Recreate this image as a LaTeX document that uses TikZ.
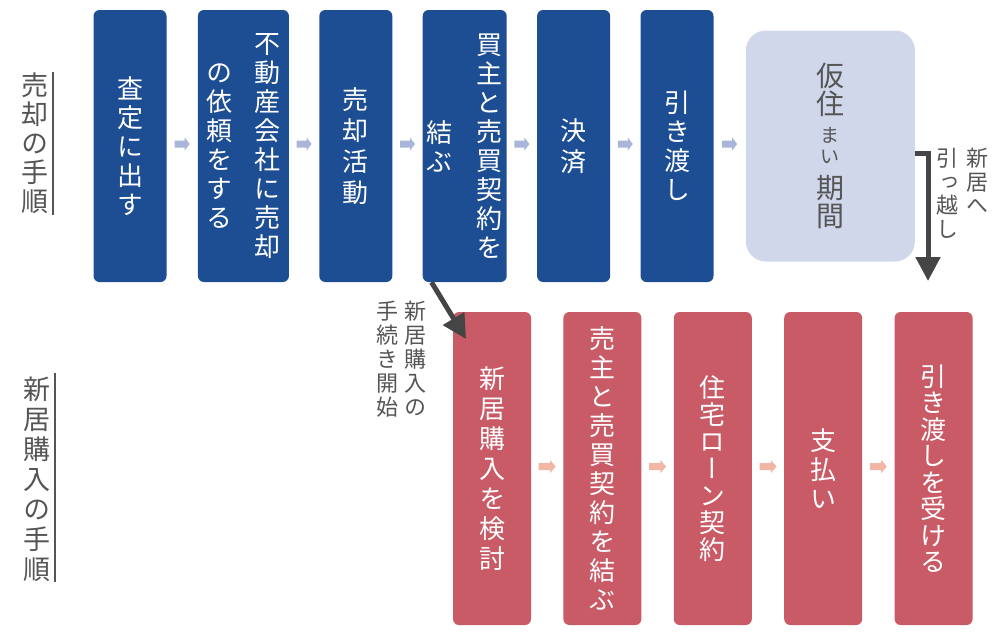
\documentclass[tikz,border=0pt]{standalone}
\usepackage{fontspec}
\newfontfamily\jp[RawFeature=+vert]{Noto Sans CJK JP}
\newfontfamily\jpsmall[Scale=0.68]{Noto Sans CJK JP}
\usepackage{tikz}
\usetikzlibrary{positioning,arrows.meta}
\definecolor{sellblue}{HTML}{1D4D92}
\definecolor{karifill}{HTML}{D0D7EA}
\definecolor{buyred}{HTML}{C95B67}
\definecolor{arrowblue}{HTML}{A9B6D9}
\definecolor{arrowpink}{HTML}{F1B6A4}
\definecolor{textgray}{HTML}{555555}
\definecolor{arrowgray}{HTML}{454545}
% vertical text: one character per row
\newcommand\tatesplit[1]{\ifx\relax#1\else\hbox to 1em{\hss#1\hss}\expandafter\tatesplit\fi}
\newcommand\tate[2][29pt]{$\vcenter{\baselineskip=#1\lineskiplimit=-100pt\lineskip=0pt\tatesplit#2\relax}$}
\newcommand\tatetop[2][24pt]{\vtop{\baselineskip=#1\lineskiplimit=-100pt\lineskip=0pt\tatesplit#2\relax}}
\newcommand\kanama{{\jpsmall ま}}
\newcommand\kanai{\raisebox{7pt}{\jpsmall い}}

\begin{document}
\begin{tikzpicture}[x=1pt,y=-1pt,
    sellbox/.style={fill=sellblue, rounded corners=6pt, minimum width=73pt, minimum height=272pt,
      inner sep=0pt, text=white, font=\jp\fontsize{26}{29}\selectfont},
    buybox/.style={sellbox, fill=buyred, minimum width=78pt, minimum height=313pt},
    karibox/.style={fill=karifill, rounded corners=20pt, minimum width=169pt, minimum height=231pt,
      inner sep=0pt, text=textgray, font=\jp\fontsize{28}{30}\selectfont},
    headtext/.style={inner sep=0pt, text=textgray, font=\jp\fontsize{27}{29}\selectfont},
    headrule/.style={draw=textgray, line width=1.5pt},
    notetext/.style={inner sep=0pt, text=textgray, font=\jp\fontsize{22}{24}\selectfont},
    hint/.pic={\fill[#1] (-7.5,-3.5) -- (2.5,-3.5) -- (2.5,-6.5) -- (7.5,0) -- (2.5,6.5)
      -- (2.5,3.5) -- (-7.5,3.5) -- cycle;},
    bigarrow/.style={draw=arrowgray, line width=5pt, -{Triangle[width=24pt,length=24pt]}}]
  \useasboundingbox (0,0) rectangle (1000,641);
  % Headings
  \node[headtext] (sellhead) at (35,143) {\tate{売却の手順}};
  \node[headtext] (buyhead) at (37,479.5) {\tate[30pt]{新居購入の手順}};
  \draw[headrule] (53,72) -- (53,215);
  \draw[headrule] (55,373) -- (55,582);
  % Selling steps
  \node[sellbox] (sell1) at (130,146) {\tate{査定に出す}};
  \node[sellbox, minimum width=91pt, right=31pt of sell1] (sell2)
    {\tate{の依頼をする}\hspace{22pt}\tate{不動産会社に売却}};
  \node[sellbox, right=30pt of sell2] (sell3) {\tate[31pt]{売却活動}};
  \node[sellbox, minimum width=84pt, right=30pt of sell3] (sell4)
    {\tate{結ぶ}\hspace{24pt}\tate{買主と売買契約を}};
  \node[sellbox, right=30pt of sell4] (sell5) {\tate[31pt]{決済}};
  \node[sellbox, right=30pt of sell5] (sell6) {\tate{引き渡し}};
  \node[karibox, right=32pt of sell6] (kari) {\tate[28pt]{仮住\kanama\kanai 期間}};
  \foreach \a/\b in {sell1/sell2,sell2/sell3,sell3/sell4,sell4/sell5,sell5/sell6,sell6/kari}
    \path (\a) -- (\b) pic[midway, yshift=2pt] {hint=arrowblue};
  % Buying steps
  \node[buybox] (buy1) at (492,468.5) {\tate[30pt]{新居購入を検討}};
  \node[buybox, right=32pt of buy1] (buy2) {\tate[29pt]{売主と売買契約を結ぶ}};
  \node[buybox, right=32pt of buy2] (buy3) {\tate[27pt]{住宅ローン契約}};
  \node[buybox, right=32pt of buy3] (buy4) {\tate{支払い}};
  \node[buybox, right=32pt of buy4] (buy5) {\tate[26.5pt]{引き渡しを受ける}};
  \foreach \a/\b in {buy1/buy2,buy2/buy3,buy3/buy4,buy4/buy5}
    \path (\a) -- (\b) pic[midway, yshift=2pt, xscale=17/15] {hint=arrowpink};
  % Links between the two flows
  \coordinate (movein) at (928,281);
  \coordinate (buystart) at (466,339);
  \draw[bigarrow] ([yshift=-7pt]kari.east) -| (movein);
  \draw[bigarrow] ([xshift=9pt]sell4.south west) -- (buystart);
  \node[notetext, anchor=north] (movenote) at (962,148)
    {\tatetop[23.5pt]{引っ越し}\hspace{8pt}\tatetop[23.5pt]{新居へ}};
  \node[notetext, anchor=north] (startnote) at (401,301)
    {\tatetop{手続き開始}\hspace{6pt}\tatetop{新居購入の}};
\end{tikzpicture}
\end{document}
